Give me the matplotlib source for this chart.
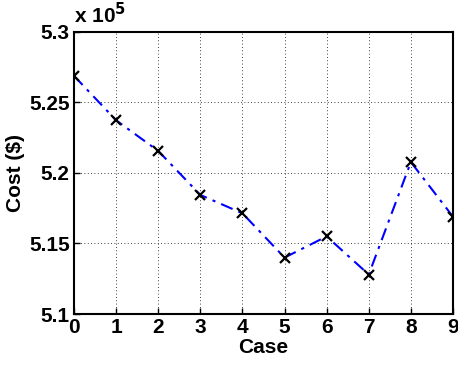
import numpy as np
import matplotlib
matplotlib.use("Agg")
import matplotlib.pyplot as plt

plt.rcParams['font.family'] = ['Liberation Sans', 'DejaVu Sans']
plt.rcParams['font.weight'] = 'bold'

cases = [0, 1, 2, 3, 4, 5, 6, 7, 8, 9]
cost = [5.2688, 5.2373, 5.2156, 5.1844, 5.1714, 5.1400, 5.1550, 5.1280, 5.2077, 5.1690]  # x 1e5

fig = plt.figure(figsize=(4.58, 3.66), dpi=100)
ax = fig.add_axes([0.1616, 0.142, 0.8274, 0.771])

ax.plot(cases, cost, linestyle='-.', color='blue', linewidth=1.5, dashes=(6, 3, 1.5, 3))
ax.plot(cases, cost, linestyle='none', marker='x', color='black', markersize=7, markeredgewidth=1.6)

ax.set_xlim(0, 9)
ax.set_ylim(5.1, 5.3)
ax.set_xticks(cases)
ax.set_yticks([5.1, 5.15, 5.2, 5.25, 5.3])
ax.set_yticklabels(['5.1', '5.15', '5.2', '5.25', '5.3'])
ax.tick_params(direction='in', labelsize=15, length=4, width=1)
ax.tick_params(axis='x', pad=3)
ax.tick_params(axis='y', pad=3)
for lbl in ax.get_xticklabels() + ax.get_yticklabels():
    lbl.set_fontweight('bold')
ax.grid(True, linestyle=(0, (1, 3)), color='black', linewidth=0.6)
for s in ax.spines.values():
    s.set_linewidth(1.5)

ax.set_xlabel('Case', fontsize=15, fontweight='bold', labelpad=0.5)
ax.set_ylabel('Cost ($)', fontsize=15, fontweight='bold', labelpad=3)
ax.text(0.0, 1.015, r'x 10$^{\mathbf{5}}$', transform=ax.transAxes, fontsize=15,
        fontweight='bold', ha='left', va='bottom')

fig.savefig('out.png', dpi=100)
